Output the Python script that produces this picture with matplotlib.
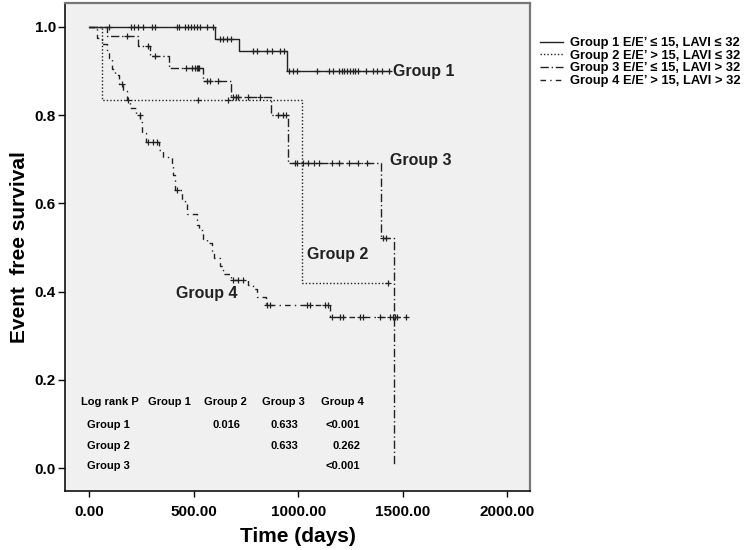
import numpy as np
import matplotlib
matplotlib.use("Agg")
import matplotlib.pyplot as plt
from matplotlib.lines import Line2D

plt.rcParams['font.family'] = ['Liberation Sans', 'DejaVu Sans']
plt.rcParams['font.weight'] = 'bold'

# Kaplan-Meier step data (day of event, survival after event)
g1_times = [0, 602, 718, 948]
g1_surv = [1.0, 0.973, 0.945, 0.90]
g1_end = 1440
g1_cens = [97, 199, 215, 236, 260, 300, 316, 419, 431, 459, 474, 487, 500, 514, 530, 562, 594,
           626, 642, 658, 677, 786, 805, 852, 875, 913, 932,
           957, 974, 996, 1088, 1149, 1165, 1196, 1208, 1219, 1232, 1248, 1260, 1271, 1287,
           1324, 1356, 1378, 1399, 1435]

g2_times = [0, 61, 1020]
g2_surv = [1.0, 0.834, 0.419]
g2_end = 1436
g2_cens = [523, 666, 1431]

g3_times = [0, 84, 236, 292, 384, 547, 677, 870, 953, 1396, 1459]
g3_surv = [1.0, 0.98, 0.957, 0.933, 0.906, 0.878, 0.84, 0.80, 0.692, 0.521, 0.005]
g3_end = 1459
g3_cens = [180, 284, 316, 464, 491, 507, 515, 523, 527, 563, 578, 618,
           690, 703, 714, 761, 817, 905, 926, 942,
           985, 996, 1024, 1048, 1076, 1101, 1160, 1196, 1244, 1287, 1327, 1404, 1420]

g4_times = [0, 37, 60, 85, 95, 110, 122, 145, 160, 180, 198, 225, 245, 255, 270,
            335, 352, 395, 403, 411, 443, 459, 467, 515, 527, 547, 563, 587, 598,
            626, 642, 680, 761, 786, 802, 845, 1150]
g4_surv = [1.0, 0.975, 0.96, 0.945, 0.93, 0.905, 0.89, 0.87, 0.855, 0.835, 0.815, 0.80, 0.785,
           0.76, 0.74, 0.72, 0.705, 0.69, 0.665, 0.63, 0.61, 0.60, 0.576, 0.55, 0.54, 0.52,
           0.51, 0.49, 0.475, 0.457, 0.44, 0.426, 0.415, 0.405, 0.388, 0.37, 0.342]
g4_end = 1520
g4_cens = [159, 188, 244, 283, 307, 326, 420, 690, 714, 738, 849, 865, 1040, 1056, 1128, 1144,
           1160, 1200, 1212, 1295, 1308, 1391, 1439, 1451, 1463, 1474, 1515]

legend_labels = ["Group 1 E/E\u2019 \u2264 15, LAVI \u2264 32",
                 "Group 2 E/E\u2019 > 15, LAVI \u2264 32",
                 "Group 3 E/E\u2019 \u2264 15, LAVI > 32",
                 "Group 4 E/E\u2019 > 15, LAVI > 32"]

# log rank table
table_cols = ["Log rank P", "Group 1", "Group 2", "Group 3", "Group 4"]
table_rows = ["Group 1", "Group 2", "Group 3"]
table_vals = [["", "0.016", "0.633", "<0.001"],
              ["", "", "0.633", "0.262"],
              ["", "", "", "<0.001"]]

styles = ['-', (0, (1, 1.5)), (0, (6, 2, 1, 2)), (0, (4, 3, 1, 3))]


def surv_at(times, surv, t):
    i = np.searchsorted(times, t, side='right') - 1
    return np.array(surv)[i]


fig = plt.figure(figsize=(7.45, 5.5), dpi=100)
ax = fig.add_axes([65 / 745, 59 / 550, 465 / 745, 488 / 550])
ax.set_facecolor('#f0f0f0')

groups = [(g1_times, g1_surv, g1_end, g1_cens),
          (g2_times, g2_surv, g2_end, g2_cens),
          (g3_times, g3_surv, g3_end, g3_cens),
          (g4_times, g4_surv, g4_end, g4_cens)]

for (times, surv, end, cens), ls in zip(groups, styles):
    xs = list(times) + [end]
    ys = list(surv) + [surv[-1]]
    ax.plot(xs, ys, drawstyle='steps-post', color='#222222', lw=1.0, linestyle=ls)
    cy = surv_at(times, surv, np.array(cens))
    ax.plot(cens, cy, linestyle='none', marker='+', color='#222222', ms=5, mew=0.9)

lab_fs = 11.5
ax.text(1453, 0.898, "Group 1", fontsize=lab_fs, fontweight='bold', va='center', color='#222222')
ax.text(1439, 0.698, "Group 3", fontsize=lab_fs, fontweight='bold', va='center', color='#222222')
ax.text(1041, 0.485, "Group 2", fontsize=lab_fs, fontweight='bold', va='center', color='#222222')
ax.text(416, 0.396, "Group 4", fontsize=lab_fs, fontweight='bold', va='center', color='#222222')

# table
fs = 8
col_left = [-40, 284, 550, 825, 1108]
for x, c in zip(col_left, table_cols):
    ax.text(x, 0.150, c, fontsize=fs, va='center')
row_y = [0.0975, 0.050, 0.0045]
col_right = [None, 722, 1002, 1296]
for y, r, vals in zip(row_y, table_rows, table_vals):
    ax.text(-8, y, r, fontsize=fs, va='center')
    for xr, v in zip(col_right, vals):
        if v:
            ax.text(xr, y, v, fontsize=fs, va='center', ha='right')

ax.set_xlim(-115, 2108)
ax.set_ylim(-0.052, 1.054)
ax.set_xticks([0, 500, 1000, 1500, 2000])
ax.set_xticklabels(["0.00", "500.00", "1000.00", "1500.00", "2000.00"])
ax.set_yticks([0, 0.2, 0.4, 0.6, 0.8, 1.0])
ax.set_yticklabels(["0.0", "0.2", "0.4", "0.6", "0.8", "1.0"])
ax.tick_params(axis='x', labelsize=11, length=4, width=1, pad=6)
ax.tick_params(axis='y', labelsize=11, length=5, width=1, pad=1.5)
for lab in ax.get_xticklabels() + ax.get_yticklabels():
    lab.set_fontweight('bold')

for s in ['left', 'bottom']:
    ax.spines[s].set_color('#111111')
    ax.spines[s].set_linewidth(1.2)
for s in ['top', 'right']:
    ax.spines[s].set_color('#777777')
    ax.spines[s].set_linewidth(1.6)

ax.set_xlabel("Time (days)", fontsize=15, fontweight='bold', labelpad=6)
ax.set_ylabel("Event  free survival", fontsize=15, fontweight='bold')
ax.yaxis.set_label_coords(-0.077, 0.5)

handles = [Line2D([], [], color='#222222', lw=1.0, linestyle=ls) for ls in styles]
fig.legend(handles, legend_labels, loc='upper left', bbox_to_anchor=(540 / 745, 1 - 37 / 550),
           frameon=False, handlelength=1.8, handletextpad=0.55,
           labelspacing=0.05, borderpad=0, borderaxespad=0,
           prop={'weight': 'bold', 'size': 9.3})

fig.savefig("out.png", dpi=100)
